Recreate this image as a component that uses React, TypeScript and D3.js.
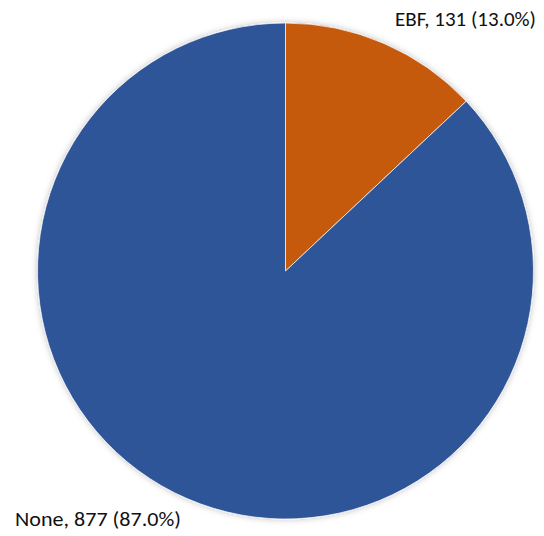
import React from "react";
import * as d3 from "d3";

const categories = ["EBF", "None"];
const values = [131, 877];
const colors = ["#C55A11", "#2F5597"];

export default function App() {
  const width = 544, height = 536;
  const cx = 285.5, cy = 271, r = 248;
  const total = d3.sum(values);
  const pie = d3.pie<number>().sort(null).value((d) => d)(values);
  const arc = d3.arc<d3.PieArcDatum<number>>().innerRadius(0).outerRadius(r);
  const fmt = (i: number) => `${categories[i]}, ${values[i]} (${((values[i] / total) * 100).toFixed(1)}%)`;
  return (
    <svg width={width} height={height} style={{ position: "absolute", left: 0, top: 0, background: "#fff" }}
      fontFamily="Carlito, Lato, 'Open Sans', sans-serif">
      <defs>
        <filter id="sh" x="-10%" y="-10%" width="120%" height="120%">
          <feDropShadow dx="0" dy="0" stdDeviation="3" floodColor="#000" floodOpacity="0.25" />
        </filter>
      </defs>
      <g transform={`translate(${cx},${cy})`} filter="url(#sh)">
        {pie.map((p, i) => (
          <path key={i} d={arc(p) || ""} fill={colors[i]} stroke="#fff" strokeWidth={0.7} />
        ))}
      </g>
      <text x={395} y={26} fontSize={19.5} fill="#111" textLength={141} lengthAdjust="spacingAndGlyphs">{fmt(0)}</text>
      <text x={15} y={526} fontSize={19.5} fill="#111" textLength={166} lengthAdjust="spacingAndGlyphs">{fmt(1)}</text>
    </svg>
  );
}
